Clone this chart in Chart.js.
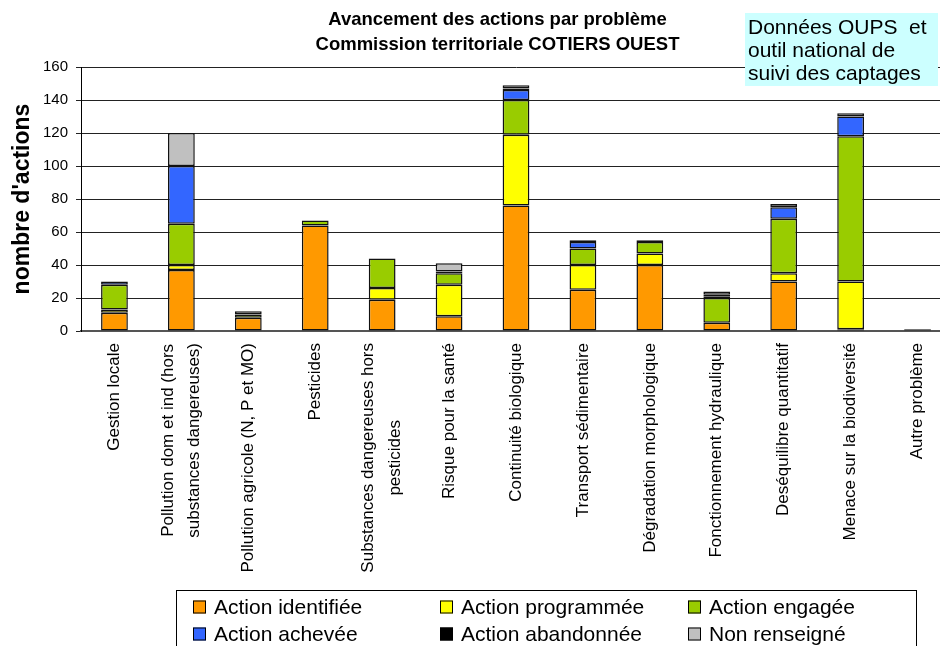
<!DOCTYPE html>
<html>
<head>
<meta charset="utf-8">
<script src="https://cdn.jsdelivr.net/npm/chart.js@4.4.1/dist/chart.umd.min.js"></script>
<style>
html,body{margin:0;padding:0;background:#fff;overflow:hidden;}
#wrap{position:relative;width:960px;height:646px;}
</style>
</head>
<body>
<div id="wrap"><canvas id="c"></canvas></div>
<script>
const categories = [
  "Gestion locale",
  ["Pollution dom et ind (hors", "substances dangereuses)"],
  "Pollution agricole (N, P et MO)",
  "Pesticides",
  ["Substances dangereuses hors", "pesticides"],
  "Risque pour la santé",
  "Continuité biologique",
  "Transport sédimentaire",
  "Dégradation morphologique",
  "Fonctionnement hydraulique",
  "Deséquilibre quantitatif",
  "Menace sur la biodiversité",
  "Autre problème"
];
const seriesNames = ["Action identifiée","Action programmée","Action engagée","Action achevée","Action abandonnée","Non renseigné"];
const identifiee   = [11, 37, 8, 64, 19, 9, 76, 25, 40, 5, 30, 1, 1];
const programmee   = [2, 3, 0, 0, 7, 19, 43, 15, 7, 0, 5, 29, 0];
const engagee      = [15, 25, 2, 3, 18, 7, 21, 10, 7, 15, 33, 88, 0];
const achevee      = [2, 35, 0, 0, 0, 0, 6, 4, 0, 1, 7, 12, 0];
const abandonnee   = [0, 0, 0, 0, 0, 1, 1, 1, 1, 1, 0, 0, 0];
const nonRenseigne = [0, 20, 2, 0, 0, 5, 2, 0, 0, 2, 2, 2, 0];
const yTicks = [0, 20, 40, 60, 80, 100, 120, 140, 160];
const titleLines = ["Avancement des actions par problème", "Commission territoriale COTIERS OUEST"];
const yTitle = "nombre d'actions";
const noteLines = ["Données OUPS  et", "outil national de", "suivi des captages"];

const colors = ["#FF9900", "#FFFF00", "#99CC00", "#3366FF", "#000000", "#C0C0C0"];
const seriesData = [identifiee, programmee, engagee, achevee, abandonnee, nonRenseigne];
const FONT = "'Liberation Sans', Arial, sans-serif";

const datasets = seriesData.map((d, i) => ({
  label: seriesNames[i],
  data: d,
  backgroundColor: colors[i],
  borderColor: "#111",
  borderWidth: 1.5,
  borderSkipped: false,
  barPercentage: 0.4,
  categoryPercentage: 1.0
}));

const extras = {
  id: "extras",
  afterDraw(chart) {
    const ctx = chart.ctx;
    const xs = chart.scales.x;
    // Title
    ctx.save();
    ctx.fillStyle = "#000";
    ctx.font = "bold 18.5px " + FONT;
    ctx.textAlign = "center";
    ctx.textBaseline = "alphabetic";
    ctx.fillText(titleLines[0], 497.5, 24.5);
    ctx.fillText(titleLines[1], 497.5, 50);
    ctx.restore();

    // X category labels (rotated)
    ctx.save();
    ctx.fillStyle = "#000";
    ctx.font = "17px " + FONT;
    chart.data.labels.forEach((lab, i) => {
      const lines = Array.isArray(lab) ? lab : [lab];
      const x = xs.getPixelForValue(i);
      const maxW = Math.max(...lines.map(l => ctx.measureText(l).width));
      const n = lines.length;
      lines.forEach((l, j) => {
        const off = (j - (n - 1) / 2) * 26.7;
        ctx.save();
        ctx.translate(x + off, 343 + maxW / 2);
        ctx.rotate(-Math.PI / 2);
        ctx.textAlign = "center";
        ctx.textBaseline = "middle";
        ctx.fillText(l, 0, 0);
        ctx.restore();
      });
    });
    ctx.restore();

    // Legend
    ctx.save();
    ctx.strokeStyle = "#000";
    ctx.lineWidth = 1;
    ctx.strokeRect(176.5, 590.5, 740, 80);
    const colX = [193, 440, 688];
    const rowY = [607, 634];
    ctx.font = "21px " + FONT;
    ctx.textBaseline = "middle";
    ctx.textAlign = "left";
    chart.data.datasets.forEach((ds, i) => {
      const cx = colX[i % 3], cy = rowY[Math.floor(i / 3)];
      ctx.fillStyle = ds.backgroundColor;
      ctx.fillRect(cx, cy - 6.5, 13, 13);
      ctx.strokeRect(cx + 0.5, cy - 6, 12, 12);
      ctx.fillStyle = "#000";
      ctx.fillText(ds.label, cx + 21, cy + 1);
    });
    ctx.restore();

    // Note box
    ctx.save();
    ctx.fillStyle = "#CCFFFF";
    ctx.fillRect(745, 13, 193, 73);
    ctx.beginPath();
    ctx.rect(745, 13, 193, 73);
    ctx.clip();
    ctx.fillStyle = "#000";
    ctx.font = "21px " + FONT;
    ctx.textAlign = "left";
    ctx.textBaseline = "alphabetic";
    noteLines.forEach((l, j) => ctx.fillText(l, 748, 33.5 + j * 23.4));
    ctx.restore();
  }
};

new Chart(document.getElementById("c"), {
  type: "bar",
  data: { labels: categories, datasets },
  options: {
    responsive: true,
    maintainAspectRatio: false,
    animation: false,
    layout: { padding: { top: 67, right: 9, bottom: 0, left: 0 } },
    plugins: { legend: { display: false }, title: { display: false }, tooltip: { enabled: false } },
    scales: {
      x: {
        stacked: true,
        ticks: { display: false },
        grid: { display: false },
        border: { color: "#555", width: 2 },
        afterFit(s) { s.height = 315; }
      },
      y: {
        stacked: true,
        min: 0,
        max: 160,
        afterBuildTicks(s) { s.ticks = yTicks.map(v => ({ value: v })); },
        ticks: { color: "#000", font: { family: FONT, size: 15 }, padding: 8 },
        grid: { color: "#222", lineWidth: 1, tickLength: 5, drawTicks: true },
        border: { color: "#000", width: 1 },
        title: { display: true, text: yTitle, color: "#000", font: { family: FONT, size: 23, weight: "bold" }, padding: { top: 9, bottom: 0 } },
        afterFit(s) { s.width = 81; }
      }
    }
  },
  plugins: [extras]
});
</script>
</body>
</html>
